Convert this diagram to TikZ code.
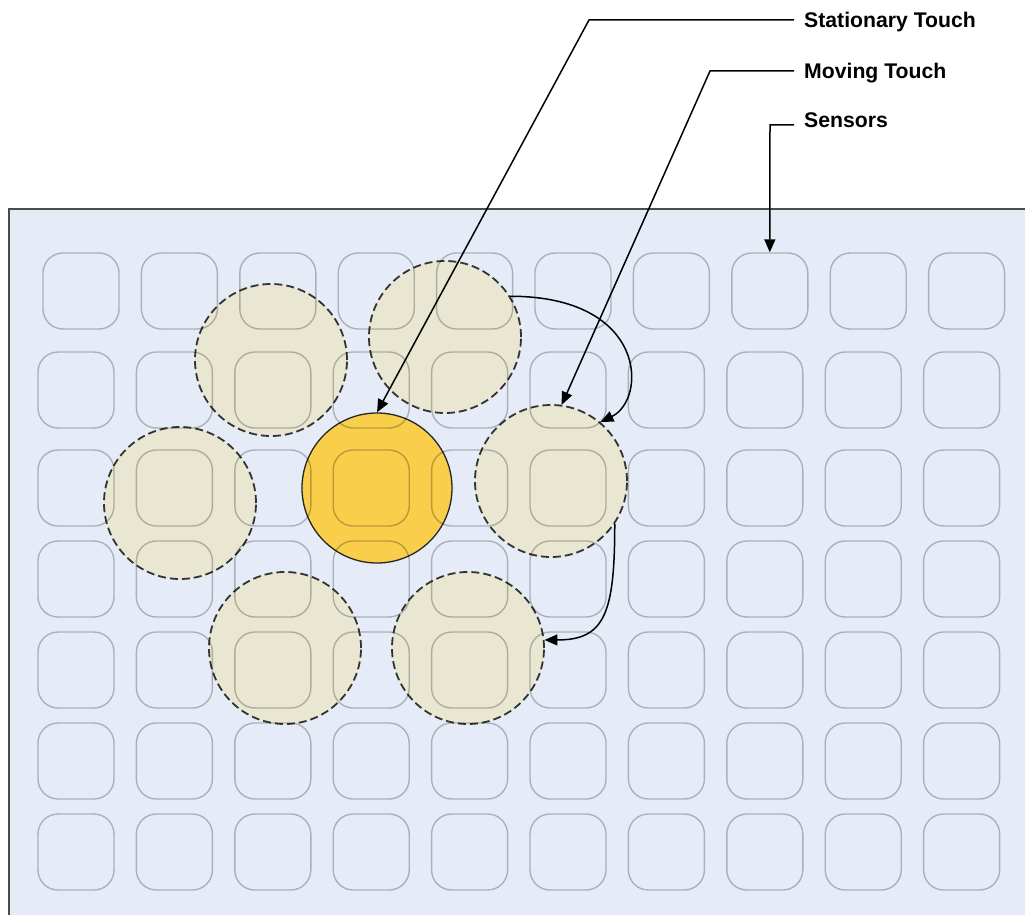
\documentclass[tikz,border=0pt]{standalone}
\usepackage{fontspec}
\setmainfont{Liberation Sans}
\usetikzlibrary{arrows.meta}
\definecolor{padblue}{HTML}{E5ECF7}
\definecolor{touchtan}{HTML}{E9E6D2}
\definecolor{touchgold}{HTML}{F9CE4B}
\tikzset{
  sensor/.style={draw=black, draw opacity=0.25, line width=1.4pt,
    rounded corners=20pt, minimum size=76pt, inner sep=0pt},
  moving/.style={circle, fill=touchtan, draw=black!80, line width=1.8pt,
    dash pattern=on 8pt off 4pt, minimum size=152pt, inner sep=0pt},
  stationary/.style={circle, fill=touchgold, draw=black!85, line width=1.3pt,
    minimum size=150pt, inner sep=0pt},
  callout/.style={anchor=west, inner xsep=10pt, inner ysep=0pt,
    text height=15pt, text depth=0pt, font=\fontsize{21.2}{25}\selectfont\bfseries},
  pointer/.style={line width=1.5pt, -{Triangle[length=13pt,width=11pt]}}
}
\begin{document}
\begin{tikzpicture}[x=1pt,y=-1pt]
      \useasboundingbox (0,0) rectangle (1025,915);
      \draw[fill=padblue, draw=black!70, line width=2pt] (9,209) rectangle (1040,930);
      % touches
      \node[moving] (m1) at (271,360) {};
      \node[moving] (m2) at (445,337) {};
      \node[moving] (m3) at (180,503) {};
      \node[moving] (m4) at (551,481) {};
      \node[moving] (m5) at (285,648) {};
      \node[moving] (m6) at (468,648) {};
      \node[stationary] (st) at (377,488) {};
      % sensor grid
      \foreach \c in {0,...,9}
        \node[sensor] (1-\c) at ({81+98.4*\c},291) {};
      \foreach \r/\y in {2/390,3/488,4/579,5/670,6/761,7/852}
        \foreach \c in {0,...,9}
          \node[sensor] (\r-\c) at ({76+98.4*\c},\y) {};
      % labels
      \node[callout] (lst) at (794,20) {Stationary Touch};
      \node[callout] (lmv) at (794,71) {Moving Touch};
      \node[callout] (lsn) at (794,120) {Sensors};
      \coordinate (stbend) at (589,20);
      \coordinate (mvbend) at (710,71);
      \coordinate (snbend) at (770,125);
      \begin{scope}[pointer]
        \draw (lst.west) -- (stbend) -- (st.north);
        \draw (lmv.west) -- (mvbend) -- (m4.82);
        \draw ([yshift=-5pt]lsn.west) -- (snbend) -- (1-7.north);
        \draw (m2.32) .. controls +(137,0) and +(47,-23) .. (m4.50);
        \draw (m4.-34) .. controls +(0,90) and +(60,0) .. (m6.6);
      \end{scope}
    \end{tikzpicture}
\end{document}
